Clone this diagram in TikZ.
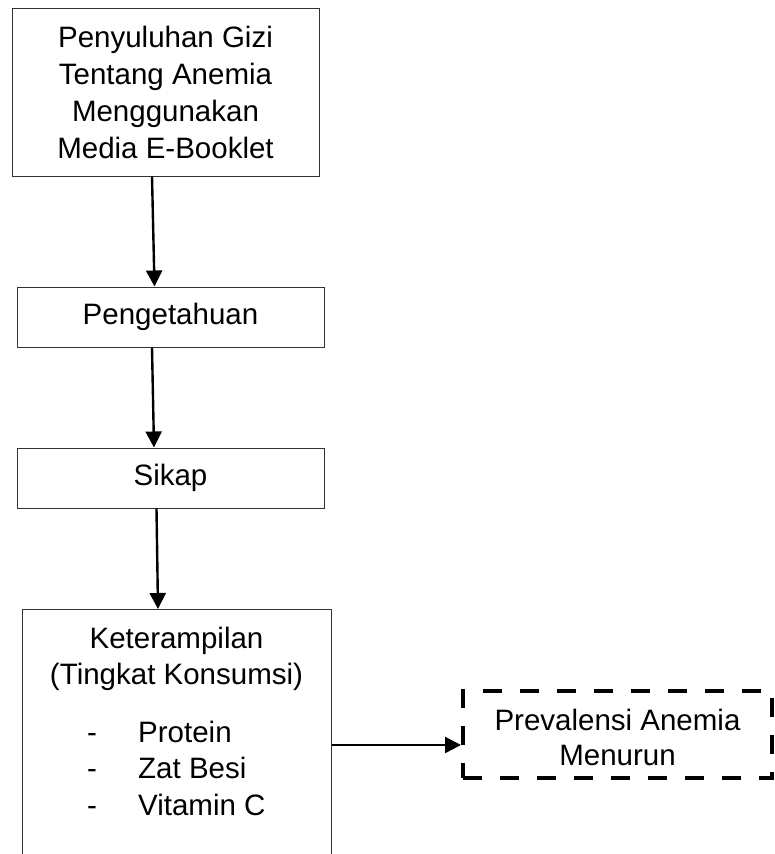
\documentclass[tikz,border=0pt]{standalone}
\usepackage{fontspec}
\setmainfont{Liberation Sans}
\usetikzlibrary{arrows.meta}

\tikzset{
  box/.style={draw=black!80, line width=1pt, inner sep=0pt, align=center},
  goal/.style={draw=black, line width=4pt, dash pattern=on 19pt off 18pt, inner sep=0pt},
  flow/.style={line width=2.4pt, -{Triangle[length=16pt,width=16pt]}},
  txt/.style={inner sep=0pt, anchor=base}
}

\begin{document}
\begin{tikzpicture}[x=1pt,y=-1pt,font=\fontsize{29.5}{37}\selectfont]
\useasboundingbox (0,0) rectangle (774,854);
\clip (0,0) rectangle (774,854);

% boxes down the left side
\node[box, minimum width=307pt, minimum height=168pt] (gizi) at (165.5,92) {Penyuluhan Gizi\\Tentang Anemia\\Menggunakan\\Media E-Booklet};
\node[box, minimum width=307pt, minimum height=60pt] (know) at (170.5,317) {Pengetahuan};
\node[box, minimum width=307pt, minimum height=60pt] (attitude) at (170.5,478) {Sikap};
\node[box, minimum width=309pt, minimum height=280pt, anchor=north] (skill) at (176.5,609) {};

\node[txt] (skillA) at (176.5,648) {Keterampilan};
\node[txt] (skillB) at (176.5,684) {(Tingkat Konsumsi)};
\node[txt] (dashA) at (92,742) {-};
\node[txt] (dashB) at (92,778) {-};
\node[txt] (dashC) at (92,815) {-};
\node[txt, anchor=base west] (itemA) at (138,742) {Protein};
\node[txt, anchor=base west] (itemB) at (138,778) {Zat Besi};
\node[txt, anchor=base west] (itemC) at (138,815) {Vitamin C};

% outcome
\node[goal, minimum width=309pt, minimum height=87pt] (outcome) at (617.5,734.5) {};
\node[align=center, inner sep=0pt, font=\fontsize{29.5}{35}\selectfont] (outcometext) at ([yshift=-3pt]outcome.center) {Prevalensi Anemia\\Menurun};

\draw[flow] ([xshift=-13.5pt]gizi.south) -- ([xshift=-16pt]know.north);
\draw[flow] ([xshift=-18.5pt]know.south) -- ([xshift=-16.5pt]attitude.north);
\draw[flow] ([xshift=-14pt]attitude.south) -- ([xshift=-18.5pt]skill.north);

\coordinate (hit) at ([yshift=-10.5pt]outcome.west);
\draw[flow] (skill.east |- hit) -- (hit);

\end{tikzpicture}
\end{document}
